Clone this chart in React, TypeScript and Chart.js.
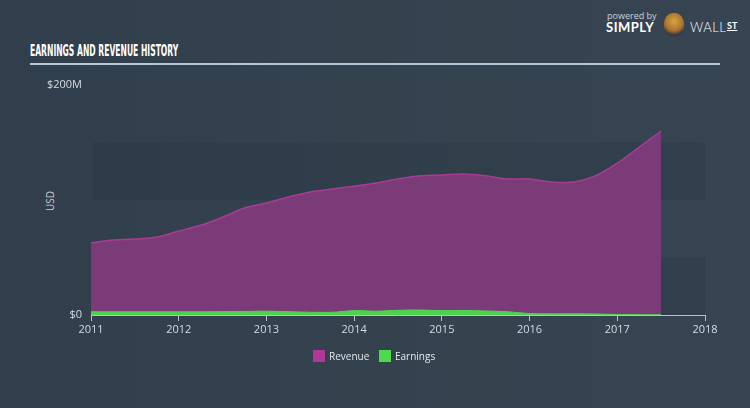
import React, { useEffect, useRef } from "react";
import { Chart, registerables } from "chart.js";

Chart.register(...registerables);

const years = [2011, 2011.25, 2011.5, 2011.75, 2012, 2012.25, 2012.5, 2012.75, 2013, 2013.25, 2013.5, 2013.75, 2014, 2014.25, 2014.5, 2014.75, 2015, 2015.25, 2015.5, 2015.75, 2016, 2016.25, 2016.5, 2016.75, 2017, 2017.25, 2017.5];
const revenue = [62.6, 65.2, 66, 67.8, 73, 78, 85, 93, 97.4, 102.6, 107, 109.6, 112, 114.8, 118.3, 121, 121.7, 122.6, 121, 118.3, 118.3, 115.7, 115.7, 121, 132, 146, 160];
const earnings = [2.8, 2.8, 2.8, 2.8, 2.8, 2.8, 2.9, 3.1, 3.3, 2.9, 2.4, 2.4, 3.8, 3.3, 4.1, 4.3, 3.8, 3.9, 3.5, 2.8, 1.3, 1.0, 1.1, 0.9, 0.5, 0.3, 0.2];
const xTicks = [2011, 2012, 2013, 2014, 2015, 2016, 2017, 2018];
const yTickLabels: Record<number, string> = { 0: "$0", 200: "$200M" };
const bands = [[100, 150], [0, 50]];

const FONT = "'Open Sans', 'DejaVu Sans', sans-serif";

export default function App() {
  const ref = useRef<HTMLCanvasElement | null>(null);

  useEffect(() => {
    document.body.style.margin = "0";
    const bandPlugin = {
      id: "bands",
      beforeDatasetsDraw(chart: any) {
        const { ctx, chartArea, scales } = chart;
        ctx.save();
        ctx.fillStyle = "rgba(30,40,52,0.15)";
        for (const [a, b] of bands) {
          const y1 = scales.y.getPixelForValue(b);
          const y2 = scales.y.getPixelForValue(a);
          ctx.fillRect(chartArea.left + 2, y1, chartArea.right - chartArea.left - 2, y2 - y1);
        }
        ctx.restore();
      },
    };
    const chart = new Chart(ref.current as HTMLCanvasElement, {
      type: "line",
      data: {
        datasets: [
          {
            label: "Revenue",
            data: years.map((x, i) => ({ x, y: revenue[i] })),
            borderColor: "#a53e92",
            backgroundColor: "#7b3a78",
            borderWidth: 1.5,
            fill: "origin",
            pointRadius: 0,
            tension: 0.3,
            order: 2,
          },
          {
            label: "Earnings",
            data: years.map((x, i) => ({ x, y: earnings[i] })),
            borderColor: "#4fd64f",
            backgroundColor: "#4cd24c",
            borderWidth: 1,
            fill: "origin",
            pointRadius: 0,
            tension: 0.3,
            order: 1,
          },
        ],
      },
      options: {
        animation: false,
        responsive: false,
        layout: { padding: { top: 85, right: 45, bottom: 63, left: 0 } },
        plugins: { legend: { display: false }, tooltip: { enabled: false } },
        scales: {
          x: {
            type: "linear",
            min: 2011,
            max: 2018,
            afterBuildTicks: (s: any) => {
              s.ticks = xTicks.map((v) => ({ value: v }));
            },
            afterFit: (s: any) => {
              s.height = 30;
            },
            ticks: {
              color: "#d6dbe0",
              font: { family: FONT, size: 11 },
              padding: 2,
              callback: (v: any) => String(v),
              maxRotation: 0,
            },
            grid: {
              drawOnChartArea: false,
              drawTicks: true,
              tickLength: 6,
              color: "#b9c0c8",
            },
            border: { color: "#b9c0c8", width: 1 },
          },
          y: {
            min: 0,
            max: 200,
            afterBuildTicks: (s: any) => {
              s.ticks = [{ value: 0 }, { value: 200 }];
            },
            afterFit: (s: any) => {
              s.width = 91;
            },
            ticks: {
              color: "#d6dbe0",
              font: { family: FONT, size: 11 },
              padding: 9,
              callback: (v: any) => yTickLabels[v] ?? "",
            },
            grid: { display: false, drawTicks: false },
            border: { display: false },
          },
        },
      },
      plugins: [bandPlugin],
    } as any);
    return () => chart.destroy();
  }, []);

  return (
    <div
      style={{
        position: "relative",
        width: 750,
        height: 408,
        overflow: "hidden",
        background: "linear-gradient(90deg, #313f4d 0%, #35434f 60%, #374553 100%)",
        fontFamily: FONT,
      }}
    >
      <div
        style={{
          position: "absolute",
          left: 30,
          top: 41,
          fontFamily: "'DejaVu Sans Condensed', 'DejaVu Sans', sans-serif",
          fontWeight: "bold",
          fontSize: 16,
          color: "#ffffff",
          transform: "scaleX(0.53)",
          transformOrigin: "left top",
          whiteSpace: "nowrap",
        }}
      >
        EARNINGS AND REVENUE HISTORY
      </div>
      <div style={{ position: "absolute", left: 30, top: 63, width: 690, height: 2, background: "#b4c6d8" }} />
      <div style={{ position: "absolute", left: 607, top: 9, fontSize: 9, color: "#c8d0d8" }}>powered by</div>
      <div
        style={{
          position: "absolute",
          left: 606,
          top: 19,
          fontSize: 13,
          fontWeight: "bold",
          color: "#ffffff",
          letterSpacing: 0.5,
          fontFamily: "Lato, 'Open Sans', sans-serif",
        }}
      >
        SIMPLY
      </div>
      <div
        style={{
          position: "absolute",
          left: 664,
          top: 13,
          width: 20,
          height: 24,
          borderRadius: "45% 45% 40% 40%",
          background: "radial-gradient(circle at 50% 35%, #d9a441 0%, #a9722c 50%, #3b3b44 72%)",
        }}
      />
      <div
        style={{
          position: "absolute",
          left: 690,
          top: 19,
          fontSize: 13,
          fontWeight: 300,
          color: "#ffffff",
          letterSpacing: 0.5,
          fontFamily: "Lato, 'Open Sans', sans-serif",
        }}
      >
        WALL
      </div>
      <div
        style={{
          position: "absolute",
          left: 727,
          top: 20,
          fontSize: 9,
          fontWeight: "bold",
          color: "#ffffff",
          textDecoration: "underline",
          fontFamily: "Lato, 'Open Sans', sans-serif",
        }}
      >
        ST
      </div>
      <div
        style={{
          position: "absolute",
          left: 50,
          top: 201,
          fontSize: 10,
          color: "#c8d0d8",
          transform: "translate(-50%, -50%) rotate(-90deg)",
        }}
      >
        USD
      </div>
      <canvas ref={ref} width={750} height={408} style={{ position: "absolute", left: 0, top: 0 }} />
      <div
        style={{
          position: "absolute",
          left: 313,
          top: 349,
          display: "flex",
          alignItems: "center",
          fontSize: 10,
          color: "#e4e8ec",
          whiteSpace: "nowrap",
        }}
      >
        <span style={{ display: "inline-block", width: 12, height: 12, background: "#b0369a", marginRight: 4 }} />
        <span style={{ display: "inline-block", width: 50 }}>Revenue</span>
        <span style={{ display: "inline-block", width: 12, height: 12, background: "#4cdb4c", marginRight: 4 }} />
        <span>Earnings</span>
      </div>
    </div>
  );
}
